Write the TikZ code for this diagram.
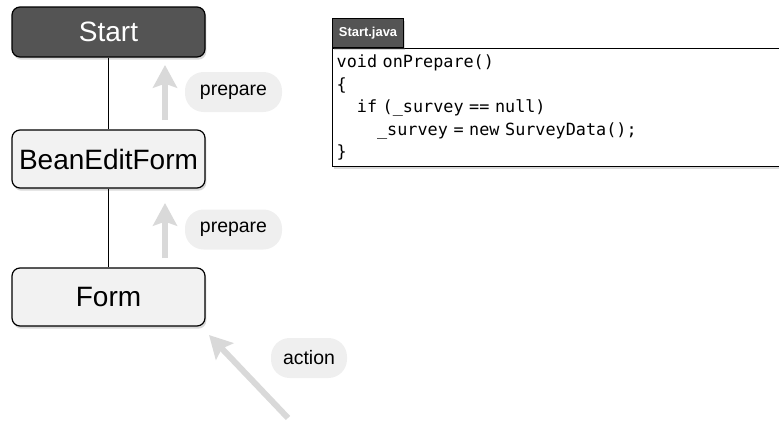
\documentclass[tikz,border=0pt]{standalone}
\usepackage{fontspec}
\setmainfont{Liberation Sans}
\setmonofont{DejaVu Sans Mono}[WordSpace={1,0,0}]
\usetikzlibrary{arrows.meta,shadows}
\definecolor{grisfonce}{HTML}{545454}
\definecolor{grisclair}{HTML}{F2F2F2}
\definecolor{grisfleche}{HTML}{D9D9D9}
\definecolor{grispastille}{HTML}{EFEFEF}
\tikzset{
  ombre/.style={drop shadow={shadow xshift=1pt,shadow yshift=-2pt,opacity=0.3}},
  boite/.style={draw=black,line width=0.9pt,rounded corners=6pt,fill=grisclair,
    minimum width=144.75pt,minimum height=43.5pt,inner sep=0pt,
    font=\fontsize{21}{21}\selectfont,ombre},
  boitesombre/.style={boite,fill=grisfonce,text=white,minimum height=37.5pt},
  pastille/.style={fill=grispastille,rounded corners=14pt,minimum height=30pt,
    minimum width=72.75pt,inner sep=0pt,font=\fontsize{14.6}{14.6}\selectfont},
  fleche/.style={draw=grisfleche,line width=4.5pt,
    -{Stealth[length=17pt,width=18pt,inset=3pt]}},
  code/.style={draw=black,line width=1pt,fill=white,anchor=north west,
    text width=352pt,align=left,inner xsep=3pt,minimum height=88.5pt,
    font=\ttfamily\fontsize{12.6}{16.9}\selectfont,ombre},
  onglet/.style={draw=black,line width=0.8pt,fill=grisfonce,text=white,anchor=south west,
    minimum width=53.25pt,minimum height=21.75pt,inner sep=0pt,
    font=\bfseries\fontsize{9.7}{9.7}\selectfont,ombre}
}

\begin{document}
\begin{tikzpicture}[x=0.75pt,y=-0.75pt]
  \clip (0,0) rectangle (779,422);
  % les pages
  \node[boitesombre] (start) at (108.5,32) {Start};
  \node[boite] (bean) at (108.5,159) {BeanEditForm};
  \node[boite] (form) at (108.5,297) {Form};
  \draw[line width=0.75pt] (start) -- (bean);
  \draw[line width=0.75pt] (bean) -- (form);
  % les fleches
  \coordinate (p1) at (165,120);
  \coordinate (p2) at (165,65);
  \coordinate (p3) at (165,258);
  \coordinate (p4) at (165,203);
  \coordinate (a1) at (288,418);
  \coordinate (a2) at (209,335);
  \draw[fleche] (p1) -- (p2);
  \draw[fleche] (p3) -- (p4);
  \draw[fleche] (a1) -- (a2);
  \node[pastille] (prep1) at (233.5,92) {prepare};
  \node[pastille] (prep2) at (233.5,229.5) {prepare};
  \node[pastille,minimum width=57pt] (action) at (309,358) {action};
  % le code
  \node[code] (java) at (332,48) {void onPrepare()\\
    \{\\
    \phantom{xx}if (\_survey == null)\\
    \phantom{xxxx}\_survey = new SurveyData();\\
    \}};
  \node[onglet] (tab) at (java.north west) {Start.java};
\end{tikzpicture}
\end{document}
